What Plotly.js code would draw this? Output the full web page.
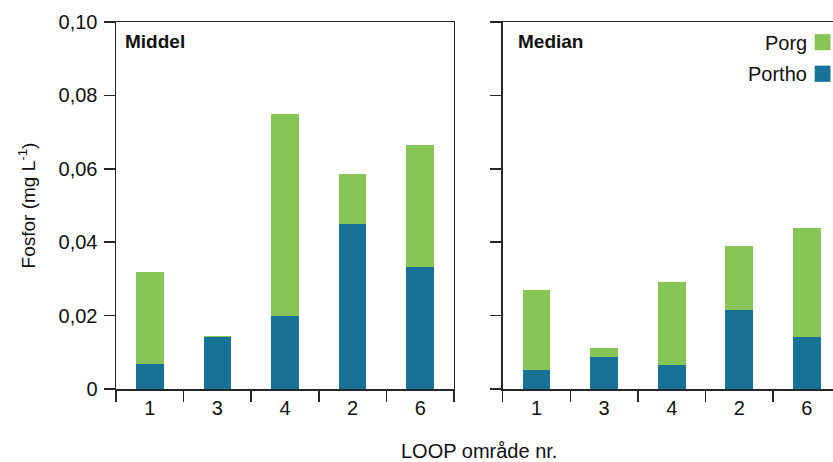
<!DOCTYPE html>
<html>
<head>
<meta charset="utf-8">
<script src="https://cdn.plot.ly/plotly-3.0.1.min.js"></script>
<style>html,body{margin:0;padding:0;background:#fff;}#chart{width:833px;height:462px;}</style>
</head>
<body>
<div id="chart"></div>
<script>
// Data
const categories = ["1", "3", "4", "2", "6"];
const middelPortho = [0.0068, 0.0141, 0.0200, 0.0450, 0.0333];
const middelPorg   = [0.0251, 0.0004, 0.0550, 0.0135, 0.0332];
const medianPortho = [0.0052, 0.0087, 0.0065, 0.0215, 0.0142];
const medianPorg   = [0.0218, 0.0025, 0.0227, 0.0175, 0.0297];
const yTickVals = [0, 0.02, 0.04, 0.06, 0.08, 0.10];
const yTickText = ["0", "0,02", "0,04", "0,06", "0,08", "0,10"];
const seriesNames = ["Porg", "Portho"];
const panelLabels = ["Middel", "Median"];

const cGreen = "#88c557";
const cBlue = "#177296";
const lineCol = "#262626";
const font = "Liberation Sans, Arial, sans-serif";

const traces = [
  {type: "bar", x: categories, y: middelPortho, name: seriesNames[1], marker: {color: cBlue}, xaxis: "x", yaxis: "y", showlegend: false},
  {type: "bar", x: categories, y: middelPorg, name: seriesNames[0], marker: {color: cGreen}, xaxis: "x", yaxis: "y", showlegend: false},
  {type: "bar", x: categories, y: medianPortho, name: seriesNames[1], marker: {color: cBlue}, xaxis: "x2", yaxis: "y2", showlegend: false},
  {type: "bar", x: categories, y: medianPorg, name: seriesNames[0], marker: {color: cGreen}, xaxis: "x2", yaxis: "y2", showlegend: false}
];

const xCommon = {
  type: "category", showline: true, linecolor: lineCol, linewidth: 1.5,
  ticks: "outside", ticklen: 11, tickwidth: 1.5, tickcolor: lineCol,
  tickson: "boundaries", showgrid: false, zeroline: false, mirror: true,
  tickfont: {family: font, size: 20, color: "#111"}, fixedrange: true
};
const yCommon = {
  range: [0, 0.10], showline: true, linecolor: lineCol, linewidth: 1.5,
  ticks: "outside", ticklen: 11, tickwidth: 1.5, tickcolor: lineCol,
  tickvals: yTickVals, ticktext: yTickText, showgrid: false, zeroline: false,
  tickfont: {family: font, size: 20, color: "#111"}, fixedrange: true
};

const layout = {
  width: 833, height: 462,
  margin: {l: 116, r: 0, t: 22, b: 73},
  paper_bgcolor: "#fff", plot_bgcolor: "#fff",
  barmode: "stack", bargap: 0.59,
  separators: ", ",
  font: {family: font, color: "#111"},
  xaxis: Object.assign({}, xCommon, {domain: [0, 0.4714], range: [-0.5, 4.5], anchor: "y"}),
  xaxis2: Object.assign({}, xCommon, {domain: [0.5393, 1], range: [-0.5, 4.386], anchor: "y2"}),
  yaxis: Object.assign({}, yCommon, {anchor: "x", mirror: true, ticklabelstandoff: 2,
    title: {text: "Fosfor (mg L<sup>-1</sup>)", font: {family: font, size: 19, color: "#111"}, standoff: 18}}),
  yaxis2: Object.assign({}, yCommon, {anchor: "x2", showticklabels: false, mirror: false}),
  annotations: [
    {xref: "x domain", yref: "y domain", x: 0.02, y: 0.98, xanchor: "left", yanchor: "top", showarrow: false,
     text: "<b>" + panelLabels[0] + "</b>", font: {family: font, size: 19, color: "#111"}},
    {xref: "x2 domain", yref: "y2 domain", x: 0.04, y: 0.98, xanchor: "left", yanchor: "top", showarrow: false,
     text: "<b>" + panelLabels[1] + "</b>", font: {family: font, size: 19, color: "#111"}},
    {xref: "paper", yref: "paper", x: 0.506, y: -0.168, xanchor: "center", yanchor: "middle", showarrow: false,
     text: "LOOP område nr.", font: {family: font, size: 20, color: "#111"}, borderpad: 0},
    {xref: "paper", yref: "paper", x: 0.966, y: 0.942, xanchor: "right", yanchor: "middle", showarrow: false,
     text: seriesNames[0], font: {family: font, size: 20, color: "#111"}},
    {xref: "paper", yref: "paper", x: 0.966, y: 0.857, xanchor: "right", yanchor: "middle", showarrow: false,
     text: seriesNames[1], font: {family: font, size: 20, color: "#111"}}
  ],
  shapes: [
    {type: "rect", xref: "paper", yref: "paper", x0: 0.9745, x1: 0.9965, y0: 0.923, y1: 0.967, fillcolor: cGreen, line: {width: 0}},
    {type: "rect", xref: "paper", yref: "paper", x0: 0.9745, x1: 0.9965, y0: 0.837, y1: 0.881, fillcolor: cBlue, line: {width: 0}}
  ]
};

Plotly.newPlot("chart", traces, layout, {displayModeBar: false, staticPlot: true});
</script>
</body>
</html>
